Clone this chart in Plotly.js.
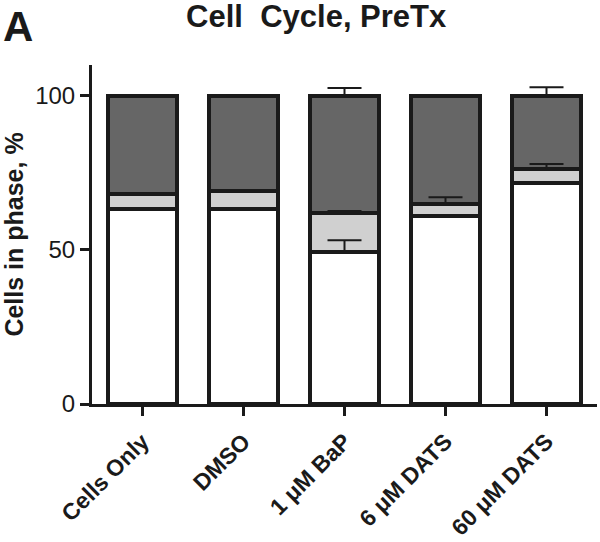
<!DOCTYPE html>
<html>
<head>
<meta charset="utf-8">
<script src="https://cdn.plot.ly/plotly-3.0.1.min.js"></script>
<style>html,body{margin:0;padding:0;background:#fff;}#chart{width:600px;height:542px;}</style>
</head>
<body>
<div id="chart"></div>
<script>
// Data
const categories = ["Cells Only", "DMSO", "1 \u03bcM BaP", "6 \u03bcM DATS", "60 \u03bcM DATS"];
const g1Values   = [63.4, 63.4, 49.2, 60.9, 71.7];   // white, bottom
const sValues    = [4.7, 5.6, 12.8, 3.9, 4.4];       // light gray, middle
const g2mValues  = [31.9, 31.0, 38.0, 35.2, 23.9];   // dark gray, top
const g1Err      = [0, 0, 3.9, 0, 0];
const sErr       = [0.3, 0, 0.6, 2.3, 1.8];
const g2mErr     = [0.3, 0, 2.5, 0.3, 2.8];
const zeros      = [0, 0, 0, 0, 0];
const yTickVals  = [0, 50, 100];

const outline = '#1a1a1a';
function makeBar(name, vals, fill) {
  return {
    type: 'bar', name: name, x: categories, y: vals,
    marker: {color: fill, line: {color: outline, width: 4}},
    hoverinfo: 'skip'
  };
}
// error bars drawn on top of the stacked segments, at each segment's cumulative top
const sTops = g1Values.map((v, i) => v + sValues[i]);
const g2Tops = sTops.map((v, i) => v + g2mValues[i]);
function makeErr(tops, err) {
  return {
    type: 'scatter', mode: 'markers', x: categories, y: tops,
    marker: {size: 1, color: 'rgba(0,0,0,0)'},
    error_y: {type: 'data', array: err, arrayminus: zeros, symmetric: false,
              color: outline, thickness: 2, width: 17, visible: true},
    hoverinfo: 'skip'
  };
}
const data = [
  makeBar('G1', g1Values, '#ffffff'),
  makeBar('S', sValues, '#d0d0d0'),
  makeBar('G2/M', g2mValues, '#666666'),
  makeErr(g1Values, g1Err),
  makeErr(sTops, sErr),
  makeErr(g2Tops, g2mErr)
];

const font = 'Liberation Sans, Arial, Helvetica, sans-serif';
const layout = {
  width: 600, height: 542,
  margin: {l: 92, r: 3, t: 65, b: 138, pad: 0},
  paper_bgcolor: '#fff', plot_bgcolor: '#fff',
  barmode: 'stack', bargap: 0.32, showlegend: false,
  font: {family: font, color: '#1a1a1a'},
  title: {text: 'Cell  Cycle, PreTx', x: 0.527, xref: 'container', xanchor: 'center',
          y: 0.99, yref: 'container', yanchor: 'top',
          font: {family: font, size: 31, weight: 'bold', color: '#1a1a1a'}},
  xaxis: {
    type: 'category', range: [-0.5, 4.5],
    showline: true, linecolor: outline, linewidth: 3,
    ticks: 'outside', ticklen: 9, tickwidth: 3, tickcolor: outline,
    tickangle: -45, ticklabelstandoff: 3,
    tickfont: {family: font, size: 23, weight: 'bold', color: '#1a1a1a'},
    showgrid: false, zeroline: false, fixedrange: true
  },
  yaxis: {
    range: [0, 110], tickvals: yTickVals, ticktext: yTickVals.map(String),
    showline: true, linecolor: outline, linewidth: 3,
    ticks: 'outside', ticklen: 9, tickwidth: 3, tickcolor: outline,
    tickfont: {family: font, size: 24, color: '#1a1a1a'},
    showgrid: false, zeroline: false, fixedrange: true,
    title: {text: 'Cells in phase, %', standoff: 14,
            font: {family: font, size: 25, weight: 'bold', color: '#1a1a1a'}}
  },
  annotations: [{
    text: 'A', xref: 'paper', yref: 'paper', x: -0.178, y: 1.185,
    xanchor: 'left', yanchor: 'top', showarrow: false, borderpad: 0,
    font: {family: font, size: 42, weight: 'bold', color: '#1a1a1a'}
  }]
};
Plotly.newPlot('chart', data, layout, {displayModeBar: false, staticPlot: true});
</script>
</body>
</html>
